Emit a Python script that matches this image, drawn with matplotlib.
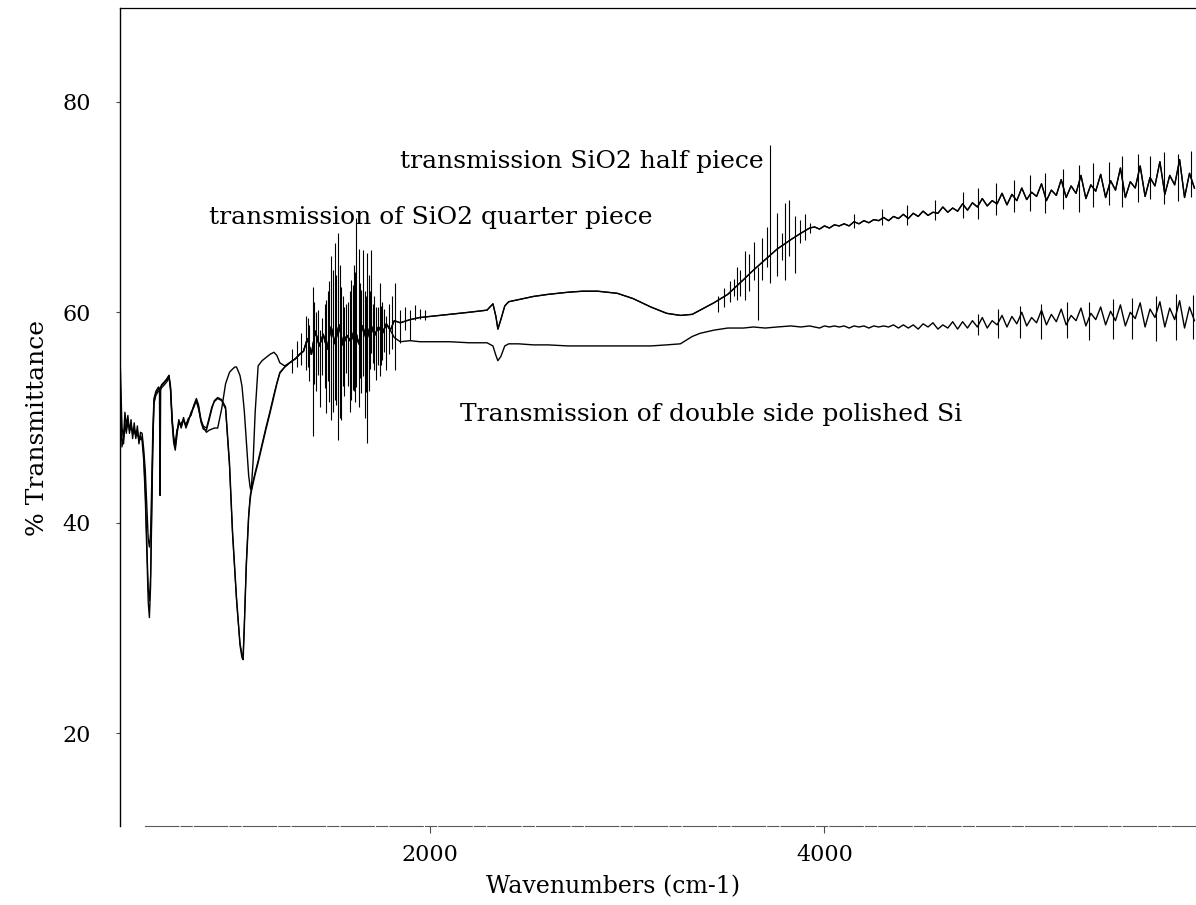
import matplotlib
matplotlib.use("Agg")
import matplotlib.pyplot as plt
import numpy as np

plt.rcParams['font.family'] = ['DejaVu Serif']

# ---- low wavenumber part, the three curves differ here ----
wn_low = [426, 433, 440, 448, 455, 462, 470, 478, 486, 494,
          502, 510, 518, 526, 534, 542, 550, 558, 566, 573,
          579, 585, 590, 596, 602, 612, 625, 630, 633, 636,
          640, 655, 668, 678, 686, 694, 702, 710, 718, 728,
          740, 752, 764, 776, 790, 805, 817, 828, 840, 852,
          868, 882, 895, 908, 925, 945, 965, 985, 1000, 1012,
          1020, 1025, 1038, 1048, 1054, 1060, 1070, 1082, 1090, 1095,
          1105, 1115, 1130, 1150, 1170, 1190, 1210, 1225, 1240, 1265,
          1290, 1320, 1340]

half_low = [57.0, 52.0, 48.0, 47.5, 49.5, 48.5, 49.8, 48.8, 49.4, 48.4,
            49.0, 48.2, 48.8, 47.8, 48.3, 47.8, 46.0, 42.5, 37.0, 32.5,
            31.0, 34.0, 40.0, 47.0, 51.5, 52.3, 52.7, 52.8, 52.8, 52.9,
            53.0, 53.3, 53.6, 54.0, 53.0, 50.0, 48.0, 47.2, 48.5, 49.6,
            49.2, 50.0, 49.0, 49.6, 50.5, 51.0, 51.7, 51.0, 49.6, 48.9,
            48.8, 49.8, 50.8, 51.6, 51.9, 51.7, 51.0, 45.7, 39.3, 35.5,
            33.0, 31.8, 28.4, 27.2, 27.0, 30.0, 35.8, 40.5, 42.3, 42.9,
            43.8, 44.6, 45.7, 47.3, 48.9, 50.4, 52.0, 53.2, 54.2, 54.8,
            55.2, 55.6, 56.0]

quarter_low = [56.0, 51.0, 47.2, 48.0, 49.0, 48.9, 49.3, 49.2, 48.8, 48.9,
               48.5, 48.7, 48.3, 48.2, 47.9, 48.1, 46.5, 43.0, 38.0, 33.8,
               32.6, 35.0, 40.5, 47.2, 51.3, 52.1, 52.5, 52.6, 52.6, 52.7,
               52.8, 53.1, 53.4, 53.8, 52.8, 49.8, 48.2, 47.5, 48.8, 49.3,
               49.5, 49.7, 49.3, 49.9, 50.2, 51.2, 51.5, 50.8, 49.8, 49.2,
               49.0, 50.0, 51.0, 51.5, 51.8, 51.6, 50.8, 45.3, 39.0, 35.2,
               32.8, 31.5, 28.6, 27.5, 27.4, 30.4, 36.2, 40.8, 42.6, 43.1,
               44.0, 44.8, 45.9, 47.5, 49.1, 50.6, 52.2, 53.3, 54.3, 54.8,
               55.2, 55.6, 56.0]

si_low = [58.0, 54.0, 49.0, 48.2, 50.5, 49.2, 50.2, 48.5, 49.8, 48.0,
          49.5, 48.0, 49.2, 47.5, 48.6, 48.5, 47.0, 45.0, 41.5, 38.5,
          37.7, 39.0, 43.0, 48.5, 51.8, 52.5, 52.9, 52.6, 42.6, 52.6,
          53.1, 53.4, 53.7, 54.0, 52.6, 49.5, 47.6, 46.9, 48.2, 49.8,
          49.0, 49.8, 49.2, 49.8, 50.3, 51.2, 51.8, 51.2, 49.8, 49.1,
          48.6, 48.8, 48.9, 49.0, 49.0, 50.8, 53.2, 54.3, 54.6, 54.8,
          54.8, 54.6, 54.0, 53.0, 51.8, 50.6, 47.8, 44.5, 43.3, 43.1,
          46.0, 50.5, 54.9, 55.4, 55.7, 56.0, 56.2, 55.9, 55.2, 54.9,
          55.2, 55.6, 56.0]

# ---- noisy water band, shared by all curves ----
wn_mid = [1360, 1380, 1400, 1420, 1440, 1460, 1480, 1500, 1520, 1540,
          1560, 1580, 1600, 1620, 1640, 1660, 1680, 1700, 1720, 1740,
          1760, 1780, 1800]
band_mid = [56.3, 57.5, 56.0, 58.2, 56.8, 57.9, 56.5, 58.6, 57.0, 58.8,
            56.9, 57.8, 57.2, 58.5, 57.0, 58.7, 57.3, 58.9, 57.8, 58.6,
            58.0, 58.9, 58.3]

# ---- middle range: SiO2 pieces (upper) and Si (lower) ----
wn_after = [1820, 1850, 1900, 1950, 2000, 2100, 2200, 2290, 2320, 2335,
            2345, 2360, 2380, 2400, 2450, 2525, 2600, 2700, 2775, 2850,
            2950, 3030, 3120, 3200, 3270, 3330, 3370, 3440, 3510, 3550,
            3590, 3640, 3700, 3760, 3830, 3880, 3925]
sio2_after = [59.2, 59.0, 59.3, 59.5, 59.6, 59.8, 60.0, 60.2, 60.8, 59.6,
              58.4, 59.3, 60.6, 61.0, 61.2, 61.5, 61.7, 61.9, 62.0, 62.0,
              61.8, 61.3, 60.5, 59.9, 59.7, 59.8, 60.2, 60.9, 61.7, 62.4,
              63.1, 64.0, 65.0, 66.0, 66.9, 67.5, 68.0]
si_after = [57.6, 57.2, 57.3, 57.2, 57.2, 57.2, 57.1, 57.1, 56.8, 55.9,
            55.4, 55.8, 56.8, 57.0, 57.0, 56.9, 56.9, 56.8, 56.8, 56.8,
            56.8, 56.8, 56.8, 56.9, 57.0, 57.7, 58.0, 58.3, 58.5, 58.5,
            58.5, 58.6, 58.5, 58.6, 58.7, 58.6, 58.7]

# ---- high range, noisy ----
wn_high = list(range(3950, 5900, 25))
sio2_high = [68.1, 67.9, 68.2, 68.0, 68.3, 68.2, 68.4, 68.2, 68.6, 68.4,
             68.7, 68.5, 68.8, 68.7, 69.0, 68.7, 69.1, 68.9, 69.3, 68.9,
             69.4, 69.1, 69.6, 69.2, 69.5, 69.4, 70.0, 69.5, 69.9, 69.6,
             70.3, 69.7, 70.4, 70.0, 70.8, 70.1, 70.6, 70.3, 71.3, 70.2,
             71.2, 70.6, 71.8, 70.7, 71.4, 71.0, 72.2, 70.6, 71.6, 71.1,
             72.6, 70.9, 72.0, 71.3, 73.0, 70.8, 72.1, 71.5, 73.1, 70.9,
             72.5, 71.6, 73.7, 70.9, 72.4, 71.8, 73.9, 71.0, 72.8, 72.0,
             74.3, 71.2, 73.0, 72.1, 74.5, 70.9, 73.2, 71.8]
si_high = [58.6, 58.5, 58.7, 58.6, 58.7, 58.6, 58.7, 58.5, 58.7, 58.6,
           58.7, 58.5, 58.7, 58.6, 58.7, 58.6, 58.8, 58.5, 58.8, 58.5,
           58.8, 58.4, 58.9, 58.6, 59.0, 58.4, 58.8, 58.5, 59.1, 58.4,
           59.1, 58.5, 59.2, 58.6, 59.5, 58.5, 59.2, 58.8, 59.7, 58.6,
           59.6, 58.9, 60.0, 58.7, 59.5, 59.0, 60.2, 58.8, 59.8, 59.1,
           60.3, 58.8, 59.7, 59.2, 60.4, 58.7, 59.9, 59.3, 60.5, 58.8,
           60.1, 59.2, 60.7, 58.7, 60.0, 59.4, 60.9, 58.6, 60.3, 59.5,
           61.0, 58.6, 60.4, 59.3, 61.1, 58.5, 60.5, 59.2]

# vertical noise spikes (water / CO2 lines and detector noise)
spike_wn = [1300, 1325, 1345, 1374, 1390, 1408, 1425, 1442, 1455, 1476,
            1490, 1501, 1510, 1518, 1535, 1545, 1552, 1565, 1585, 1595,
            1603, 1615, 1628, 1640, 1653, 1662, 1670, 1682, 1690, 1704,
            1715, 1729, 1735, 1746, 1760, 1780, 1795, 1810, 1822, 1848,
            1873, 1898, 1924, 1950, 1975,
            1382, 1415, 1432, 1468, 1482, 1525, 1558, 1575, 1610, 1622,
            1647, 1675, 1697, 1710, 1752, 1770,
            3460, 3490, 3520, 3540, 3557, 3574, 3599, 3619, 3641, 3661,
            3684, 3709, 3726, 3760, 3785, 3802, 3819, 3853, 3878, 3903, 3929,
            4150, 4290, 4420, 4560, 4700, 4780, 4870, 4960, 5040, 5120,
            5210, 5290, 5360, 5440, 5510, 5590, 5650, 5720, 5790, 5860,
            4780, 4880, 4990, 5100, 5230, 5340, 5460, 5560, 5680, 5780, 5870]
spike_top = [56.5, 57.3, 58.0, 59.6, 58.8, 62.4, 60.0, 58.3, 59.5, 61.2,
             63.0, 65.3, 64.0, 66.6, 67.5, 64.5, 62.4, 60.5, 61.0, 62.0,
             63.1, 64.5, 69.0, 66.0, 62.1, 65.9, 62.0, 65.6, 63.5, 65.9,
             61.5, 60.5, 60.5, 62.8, 61.0, 59.6, 60.8, 61.5, 62.8, 60.2,
             60.5, 60.2, 60.7, 60.3, 60.2,
             59.5, 61.0, 60.2, 60.8, 62.0, 63.5, 61.5, 60.8, 62.6, 63.8,
             62.8, 61.5, 62.0, 60.8, 60.6, 60.3,
             61.5, 62.3, 63.0, 63.2, 64.3, 64.0, 65.8, 65.5, 66.7, 64.3,
             67.1, 68.1, 75.9, 69.4, 67.5, 70.4, 70.7, 69.1, 68.8, 69.3, 68.5,
             69.3, 69.8, 70.2, 70.7, 71.4, 71.8, 72.3, 72.6, 73.0, 73.2,
             73.6, 74.0, 74.2, 74.3, 74.8, 75.0, 74.8, 75.2, 75.0, 75.3,
             59.8, 60.3, 60.6, 60.8, 61.0, 61.0, 61.3, 61.4, 61.5, 61.7, 61.6]
spike_bot = [54.2, 54.8, 55.0, 54.5, 53.5, 48.2, 52.5, 51.0, 54.0, 50.4,
             51.5, 49.8, 50.5, 51.7, 47.9, 50.0, 49.8, 52.0, 53.0, 50.5,
             51.7, 52.5, 52.9, 51.0, 52.3, 53.9, 50.0, 47.6, 52.5, 56.1,
             54.5, 53.6, 55.0, 53.9, 55.5, 54.5, 56.0, 56.5, 54.5, 57.1,
             58.3, 57.4, 59.3, 59.4, 59.3,
             54.8, 53.2, 54.0, 52.8, 53.5, 51.2, 53.0, 54.2, 52.6, 51.5,
             53.8, 52.4, 54.6, 55.2, 55.0, 56.2,
             60.0, 60.5, 61.0, 61.5, 61.2, 61.5, 61.2, 62.0, 63.1, 59.3,
             63.1, 64.3, 62.8, 63.4, 65.0, 63.1, 65.3, 63.7, 66.6, 66.9, 67.5,
             68.0, 68.3, 68.3, 68.8, 69.0, 68.9, 69.2, 69.5, 69.6, 69.4,
             69.8, 69.5, 70.0, 70.2, 70.0, 70.5, 70.8, 70.3, 70.6, 70.9,
             57.8, 57.6, 57.6, 57.5, 57.6, 57.4, 57.5, 57.5, 57.3, 57.4, 57.5]

# assemble full curves
wn_all = wn_low + wn_mid + wn_after + wn_high
half = half_low + band_mid + sio2_after + sio2_high
quarter = quarter_low + band_mid + sio2_after + sio2_high
si = si_low + band_mid + si_after + si_high

fig = plt.figure(figsize=(11.96, 9.05), dpi=100)
ax = fig.add_axes([120 / 1196, 1 - 826 / 905, 1076 / 1196, 818 / 905])

ax.plot(wn_all, half, color='black', lw=1.0)
ax.plot(wn_all, quarter, color='black', lw=0.9)
ax.plot(wn_all, si, color='black', lw=1.0)
ax.vlines(spike_wn, spike_bot, spike_top, color='black', lw=0.8)

ax.set_xlim(430, 5883)
ax.set_ylim(11.2, 88.9)
ax.set_xticks([2000, 4000])
ax.set_yticks([20, 40, 60, 80])

ax.spines['right'].set_visible(False)
ax.spines['top'].set_linewidth(0.9)
ax.spines['left'].set_linewidth(1.0)
ax.spines['bottom'].set_bounds(557, 5883)
ax.spines['bottom'].set_color('0.35')
ax.spines['bottom'].set_linewidth(0.8)
ax.spines['bottom'].set_linestyle((0, (30, 2, 10, 2)))

ax.tick_params(axis='x', direction='out', length=5, width=0.8, pad=8,
               labelsize=16, color='0.3')
ax.tick_params(axis='y', direction='out', length=3, width=0.8, pad=18,
               labelsize=16, color='0.3')

# curve annotations
ax.text(1848, 74.3, 'transmission SiO2 half piece', fontsize=18,
        ha='left', va='center')
ax.text(883, 69.0, 'transmission of SiO2 quarter piece', fontsize=18,
        ha='left', va='center')
ax.text(2152, 50.25, 'Transmission of double side polished Si', fontsize=18,
        ha='left', va='center')

fig.text(613 / 1196, 1 - 887 / 905, 'Wavenumbers (cm-1)', fontsize=17,
         ha='center', va='center')
fig.text(38 / 1196, 1 - 428 / 905, '% Transmittance', fontsize=18,
         rotation=90, ha='center', va='center')

fig.savefig('out.png', dpi=100)
